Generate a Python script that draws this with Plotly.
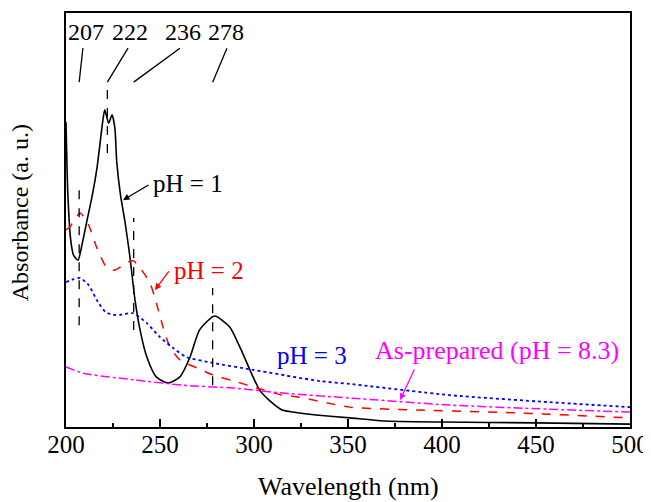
import plotly.graph_objects as go

FONT = "Liberation Serif"

# pH = 1 (black solid)
wl_ph1 = [200, 201, 202.5, 204, 206.4, 208.5, 211, 214, 216.5, 218, 219.5, 220.6, 222.7, 224.5, 226, 227,
          229, 231.4, 234, 236.7, 239.4, 243, 248, 254.3, 260.6, 266, 271, 279, 287, 292.5, 299.5, 303,
          308, 315, 324, 333, 351, 369, 400, 450, 500]
ab_ph1 = [0.737, 0.560, 0.452, 0.415, 0.403, 0.440, 0.495, 0.560, 0.626, 0.681, 0.737, 0.766, 0.734, 0.754,
          0.722, 0.640, 0.560, 0.495, 0.411, 0.307, 0.234, 0.169, 0.121, 0.106, 0.121, 0.169, 0.234, 0.268,
          0.242, 0.193, 0.121, 0.089, 0.065, 0.041, 0.034, 0.029, 0.022, 0.0145, 0.012, 0.010, 0.007]

# pH = 2 (red dashed)
wl_ph2 = [200, 202, 207.5, 212, 216.5, 221.8, 226, 233.3, 236, 239.4, 244.7, 248, 251.6, 255.3, 260.6,
          269.5, 278, 290.8, 299.5, 315, 324, 351, 387, 440, 500]
ab_ph2 = [0.476, 0.483, 0.517, 0.488, 0.432, 0.384, 0.379, 0.399, 0.401, 0.384, 0.348, 0.300, 0.242, 0.193,
          0.162, 0.143, 0.126, 0.109, 0.097, 0.077, 0.072, 0.048, 0.041, 0.034, 0.022]

# pH = 3 (blue dotted)
wl_ph3 = [200, 204, 207.5, 212, 217, 221, 225, 228.7, 235.6, 243, 250, 257, 264, 278, 299.5, 335, 351,
          404, 457, 500]
ab_ph3 = [0.350, 0.357, 0.360, 0.343, 0.302, 0.278, 0.271, 0.271, 0.275, 0.251, 0.217, 0.191, 0.169, 0.155,
          0.138, 0.111, 0.104, 0.077, 0.060, 0.048]

# As-prepared, pH = 8.3 (magenta dash-dot)
wl_asp = [200, 209, 236, 262, 289, 315, 351, 404, 457, 500]
ab_asp = [0.145, 0.130, 0.114, 0.101, 0.094, 0.082, 0.070, 0.053, 0.043, 0.036]

# Peak markers
peak_labels = ["207", "222", "236", "278"]
peak_wl = [207, 222, 236, 278]
peak_top_wl = [209, 233, 260.6, 285.6]       # upper end of slanted leader
peak_dash_lo = [0.246, 0.662, 0.234, 0.101]  # vertical dashed guide range
peak_dash_hi = [0.589, 0.824, 0.505, 0.336]
label_wl = [210.5, 234, 262, 285]

x_ticks = [200, 250, 300, 350, 400, 450, 500]

fig = go.Figure()
series = [
    (wl_ph1, ab_ph1, "black", "solid", 1.6),
    (wl_ph2, ab_ph2, "red", "dash", 1.5),
    (wl_ph3, ab_ph3, "blue", "dot", 1.8),
    (wl_asp, ab_asp, "magenta", "dashdot", 1.5),
]
for xs, ys, c, d, w in series:
    fig.add_trace(go.Scatter(x=xs, y=ys, mode="lines",
                             line=dict(color=c, dash=d, width=w, shape="spline", smoothing=0.6),
                             showlegend=False, hoverinfo="skip"))

shapes = []
annotations = []
for lab, pw, tw, lo, hi, lw in zip(peak_labels, peak_wl, peak_top_wl, peak_dash_lo, peak_dash_hi, label_wl):
    shapes.append(dict(type="line", xref="x", yref="y", x0=pw, x1=pw, y0=lo, y1=hi,
                       line=dict(color="black", width=1.3, dash="dash")))
    shapes.append(dict(type="line", xref="x", yref="y", x0=pw, x1=tw, y0=0.833, y1=0.915,
                       line=dict(color="black", width=1.3)))
    annotations.append(dict(x=lw, y=0.955, xref="x", yref="y", text=lab, showarrow=False,
                            font=dict(family=FONT, size=24, color="black")))

# curve labels
annotations += [
    dict(x=264.9, y=0.587, xref="x", yref="y", text="pH = 1", showarrow=False,
         font=dict(family=FONT, size=25, color="black")),
    dict(x=230.3, y=0.548, xref="x", yref="y", text="", showarrow=True, ax=27, ay=-16,
         arrowhead=2, arrowsize=1, arrowwidth=1.3, arrowcolor="black"),
    dict(x=276, y=0.379, xref="x", yref="y", text="pH = 2", showarrow=False,
         font=dict(family=FONT, size=25, color="red")),
    dict(x=247.3, y=0.331, xref="x", yref="y", text="", showarrow=True, ax=15, ay=-20,
         arrowhead=2, arrowsize=1, arrowwidth=1.3, arrowcolor="red"),
    dict(x=330.8, y=0.172, xref="x", yref="y", text="pH = 3", showarrow=False,
         font=dict(family=FONT, size=25, color="blue")),
    dict(x=429.5, y=0.186, xref="x", yref="y", text="As-prepared (pH = 8.3)", showarrow=False,
         font=dict(family=FONT, size=26, color="magenta")),
    dict(x=377.7, y=0.065, xref="x", yref="y", text="", showarrow=True, ax=15, ay=-32,
         arrowhead=2, arrowsize=1, arrowwidth=1.3, arrowcolor="magenta"),
    # axis titles
    dict(x=0.5, y=-0.143, xref="paper", yref="paper", text="Wavelength (nm)", showarrow=False,
         xanchor="center", yanchor="middle", font=dict(family=FONT, size=26, color="black")),
    dict(x=-0.081, y=0.517, xref="paper", yref="paper", text="Absorbance (a. u.)", showarrow=False,
         textangle=-90, xanchor="center", yanchor="middle", font=dict(family=FONT, size=24, color="black")),
]

fig.update_layout(
    width=643, height=494,
    margin=dict(l=58, r=21, t=5, b=75),
    paper_bgcolor="white", plot_bgcolor="white",
    font=dict(family=FONT, size=25, color="black"),
    shapes=shapes, annotations=annotations,
    xaxis=dict(range=[200, 500], tickvals=x_ticks, ticks="inside", ticklen=8, tickwidth=1.5,
               tickcolor="black", showline=True, linecolor="black", linewidth=2, mirror=True,
               showgrid=False, zeroline=False, tickfont=dict(family=FONT, size=25), automargin=False,
               ticklabelstandoff=-6,
               minor=dict(dtick=25, ticks="inside", ticklen=4, tickwidth=1.5, tickcolor="black")),
    yaxis=dict(range=[0, 1], showticklabels=False, ticks="", showline=True, linecolor="black",
               linewidth=2, mirror=True, showgrid=False, zeroline=False, automargin=False),
)

fig.write_html("out.html")
